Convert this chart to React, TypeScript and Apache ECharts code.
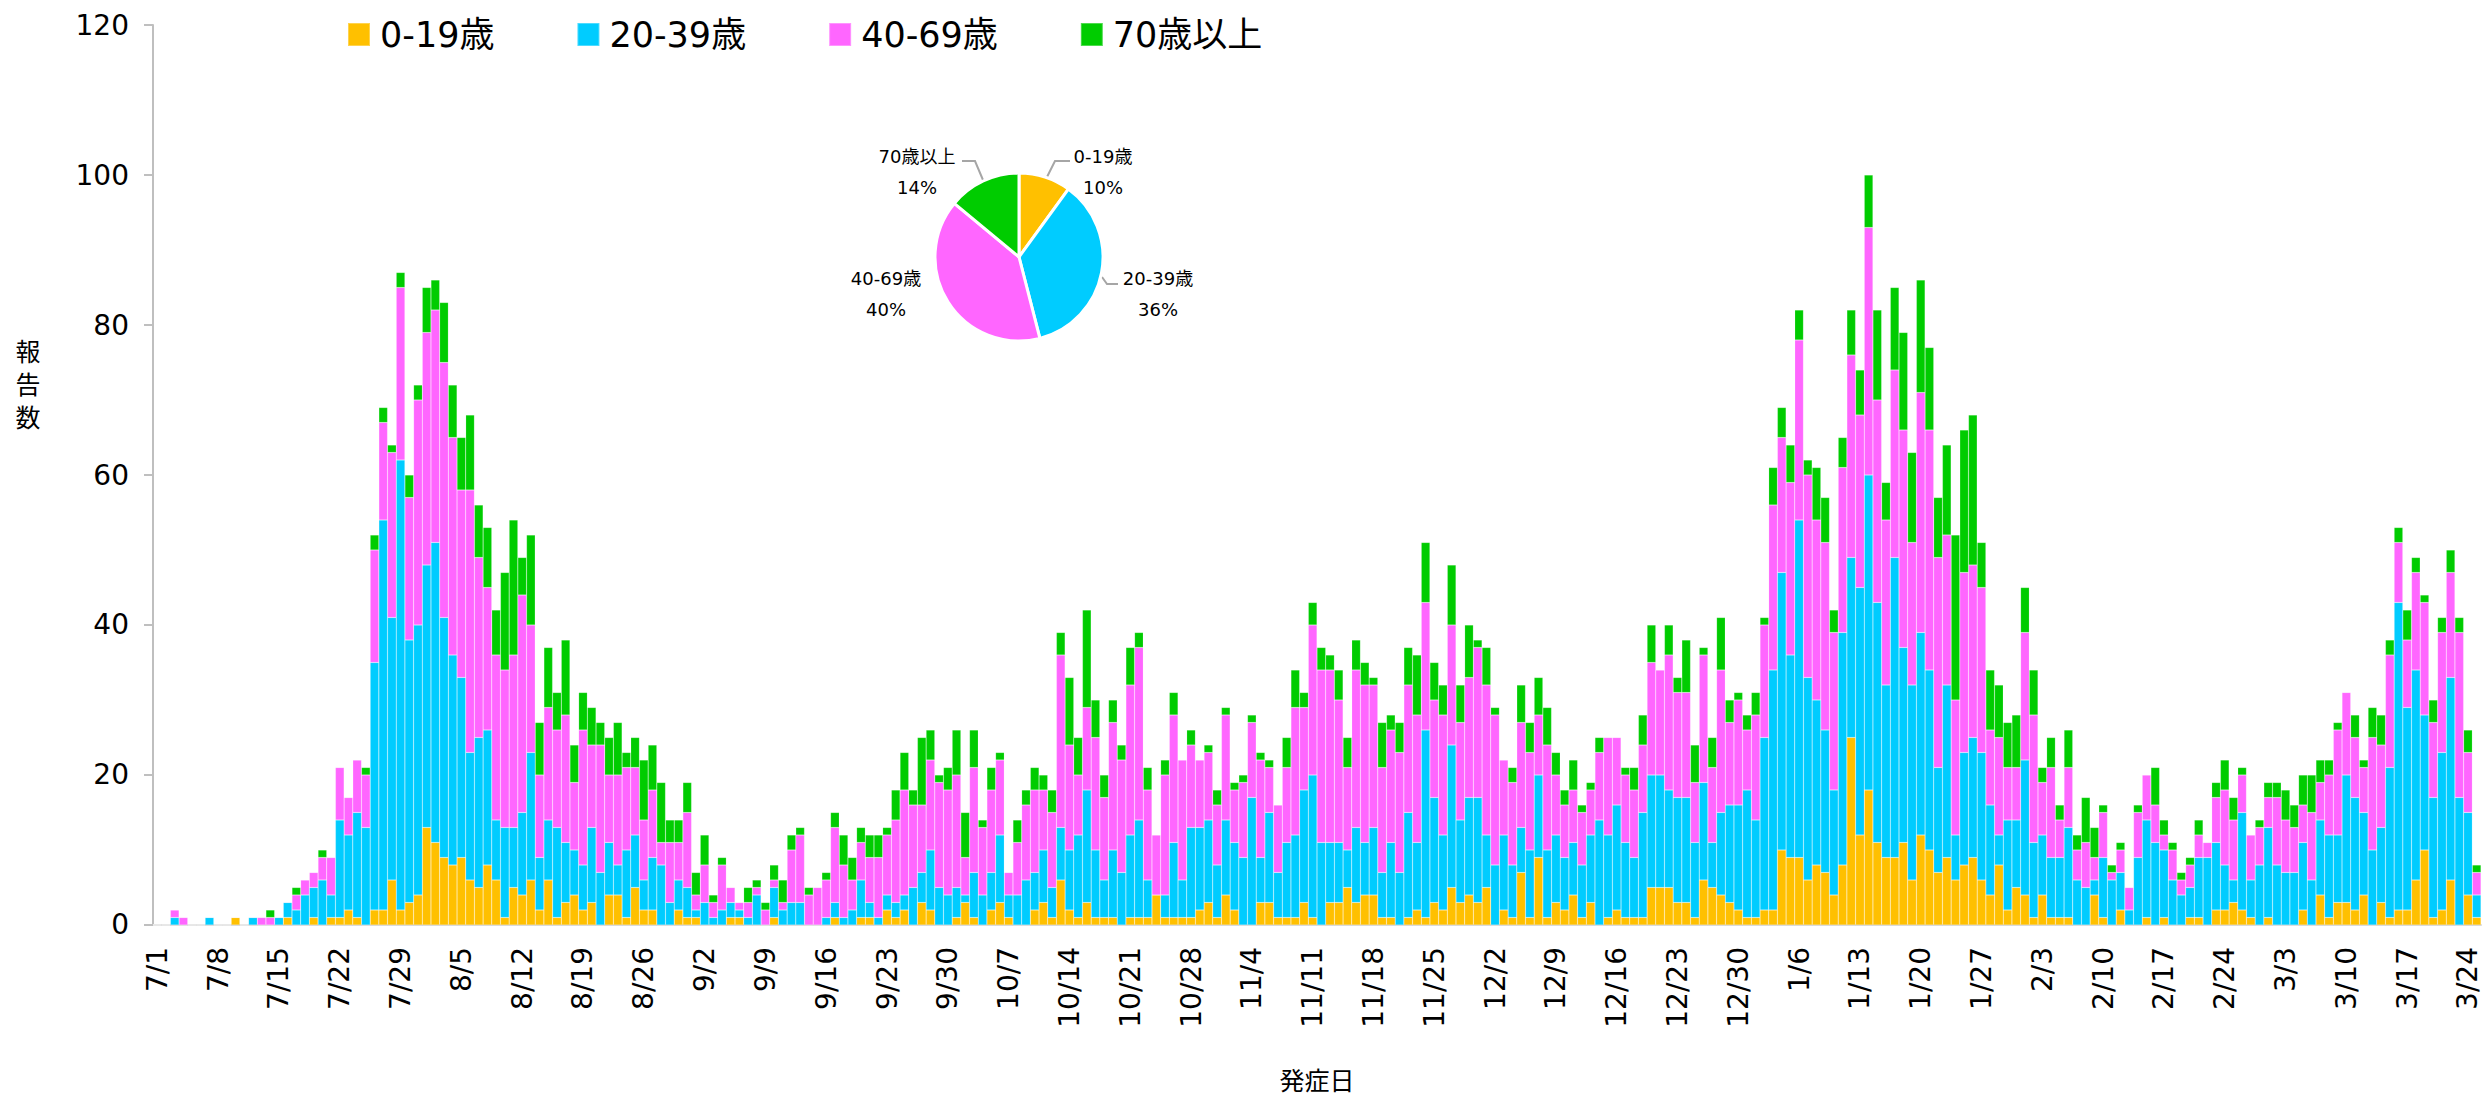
import React, { useEffect, useRef } from "react";
import * as echarts from "echarts";

const FONT = '"DejaVu Sans", "Noto Sans CJK JP", sans-serif';

// categories: 7/1 .. 3/25
const months = [7, 8, 9, 10, 11, 12, 1, 2, 3];
const monthDays = [31, 31, 30, 31, 30, 31, 31, 28, 25];
const categories: string[] = [];
months.forEach((m, i) => {
  for (let d = 1; d <= monthDays[i]; d++) categories.push(`${m}/${d}`);
});

const seriesNames = ["0-19歳", "20-39歳", "40-69歳", "70歳以上"];
const colors = ["#FFC000", "#00CCFF", "#FF66FF", "#00CC00"];

const age0to19 = [
  0, 0, 0, 0, 0, 0, 0, 0, 0, 1,
  0, 0, 0, 0, 0, 1, 0, 0, 1, 0,
  1, 1, 2, 1, 0, 2, 2, 6, 2, 3,
  4, 13, 11, 9, 8, 9, 6, 5, 8, 6,
  1, 5, 4, 6, 2, 6, 1, 3, 4, 2,
  3, 0, 4, 4, 1, 5, 2, 2, 0, 0,
  2, 1, 1, 0, 0, 0, 1, 1, 0, 0,
  0, 1, 0, 0, 0, 0, 0, 0, 1, 0,
  0, 1, 1, 0, 2, 1, 2, 0, 3, 2,
  0, 0, 1, 3, 1, 0, 2, 3, 1, 0,
  0, 2, 3, 1, 6, 2, 1, 3, 1, 1,
  1, 0, 1, 1, 1, 4, 1, 1, 1, 1,
  2, 3, 1, 4, 2, 0, 0, 3, 3, 1,
  1, 1, 3, 1, 0, 3, 3, 5, 3, 4,
  4, 1, 1, 0, 1, 2, 1, 3, 2, 5,
  3, 4, 3, 5, 0, 2, 1, 7, 1, 9,
  1, 3, 2, 4, 1, 3, 0, 1, 2, 1,
  1, 1, 5, 5, 5, 3, 3, 1, 6, 5,
  4, 3, 2, 1, 1, 2, 2, 10, 9, 9,
  6, 8, 7, 4, 8, 25, 12, 18, 11, 9,
  9, 11, 6, 12, 10, 7, 9, 6, 8, 9,
  6, 4, 8, 2, 5, 4, 1, 4, 1, 1,
  1, 0, 0, 4, 1, 0, 2, 0, 0, 1,
  0, 1, 0, 0, 1, 1, 0, 2, 2, 3,
  2, 1, 0, 1, 0, 0, 0, 2, 0, 4,
  1, 3, 3, 2, 4, 0, 3, 1, 2, 2,
  6, 10, 1, 2, 6, 0, 4, 1,
];

const age20to39 = [
  0, 0, 1, 0, 0, 0, 1, 0, 0, 0,
  0, 1, 0, 0, 1, 2, 2, 4, 4, 6,
  3, 13, 10, 14, 13, 33, 52, 35, 60, 35,
  36, 35, 40, 32, 28, 24, 17, 20, 18, 8,
  12, 8, 11, 17, 7, 8, 12, 8, 6, 6,
  10, 7, 7, 4, 9, 7, 4, 7, 8, 3,
  4, 4, 1, 3, 1, 2, 2, 1, 1, 4,
  0, 4, 2, 3, 3, 0, 0, 1, 2, 1,
  2, 5, 2, 1, 2, 2, 2, 5, 4, 8,
  5, 4, 4, 1, 6, 4, 5, 9, 3, 4,
  6, 5, 7, 4, 7, 8, 11, 15, 9, 5,
  9, 7, 11, 13, 5, 0, 3, 10, 5, 12,
  11, 11, 7, 10, 9, 9, 17, 6, 12, 6,
  10, 11, 15, 19, 11, 8, 8, 5, 10, 7,
  9, 6, 10, 7, 14, 9, 25, 14, 10, 19,
  11, 13, 14, 7, 8, 10, 7, 6, 9, 11,
  9, 9, 7, 7, 7, 9, 14, 11, 14, 10,
  8, 14, 15, 15, 13, 14, 14, 10, 13, 6,
  11, 13, 14, 17, 13, 23, 32, 37, 27, 45,
  27, 22, 19, 14, 31, 24, 33, 42, 32, 23,
  40, 26, 26, 27, 24, 14, 23, 6, 15, 16,
  17, 12, 4, 12, 9, 18, 10, 8, 8, 8,
  12, 6, 5, 2, 8, 6, 5, 2, 9, 13,
  11, 9, 6, 4, 4, 8, 9, 9, 6, 3,
  13, 5, 8, 12, 8, 7, 7, 9, 6, 10,
  11, 9, 17, 15, 11, 10, 10, 20, 41, 27,
  28, 18, 16, 21, 27, 17, 11, 3,
];

const age40to69 = [
  0, 0, 1, 1, 0, 0, 0, 0, 0, 0,
  0, 0, 1, 1, 0, 0, 2, 2, 2, 3,
  5, 7, 5, 7, 7, 15, 13, 22, 23, 19,
  30, 31, 31, 34, 29, 25, 35, 24, 19, 22,
  21, 23, 29, 17, 11, 15, 13, 17, 9, 18,
  11, 17, 9, 12, 11, 9, 8, 9, 3, 8,
  5, 10, 2, 5, 2, 6, 2, 1, 2, 1,
  2, 1, 1, 7, 9, 4, 5, 5, 10, 7,
  4, 5, 6, 8, 8, 11, 14, 11, 9, 12,
  14, 14, 15, 5, 14, 9, 11, 10, 3, 7,
  10, 11, 8, 10, 23, 14, 8, 11, 15, 11,
  17, 15, 20, 23, 12, 8, 16, 17, 16, 11,
  9, 9, 8, 14, 7, 10, 10, 13, 6, 9,
  10, 17, 11, 20, 23, 23, 19, 11, 21, 21,
  19, 14, 15, 16, 17, 17, 17, 13, 16, 16,
  13, 16, 20, 20, 20, 10, 11, 14, 13, 8,
  14, 8, 7, 7, 7, 6, 9, 13, 9, 9,
  9, 9, 15, 14, 18, 14, 14, 8, 17, 10,
  19, 11, 14, 8, 14, 15, 22, 18, 23, 24,
  27, 24, 25, 21, 22, 27, 23, 33, 27, 22,
  25, 29, 19, 32, 32, 28, 20, 18, 24, 23,
  22, 10, 13, 7, 7, 17, 17, 7, 12, 5,
  8, 4, 6, 3, 6, 1, 3, 3, 6, 6,
  5, 2, 4, 2, 3, 3, 2, 6, 10, 8,
  5, 6, 5, 4, 9, 7, 6, 5, 9, 5,
  8, 14, 11, 8, 6, 15, 11, 15, 8, 9,
  13, 15, 10, 16, 14, 22, 8, 3,
];

const age70plus = [
  0, 0, 0, 0, 0, 0, 0, 0, 0, 0,
  0, 0, 0, 1, 0, 0, 1, 0, 0, 1,
  0, 0, 0, 0, 1, 2, 2, 1, 2, 3,
  2, 6, 4, 8, 7, 7, 10, 7, 8, 6,
  13, 18, 5, 12, 7, 8, 5, 10, 5, 5,
  5, 3, 5, 7, 2, 4, 8, 6, 8, 3,
  3, 4, 3, 4, 1, 1, 0, 0, 2, 1,
  1, 2, 3, 2, 1, 1, 0, 1, 2, 4,
  3, 2, 3, 3, 1, 4, 5, 2, 9, 4,
  1, 3, 6, 6, 5, 1, 3, 1, 0, 3,
  2, 3, 2, 3, 3, 9, 5, 13, 5, 3,
  3, 2, 5, 2, 3, 0, 2, 3, 0, 2,
  0, 1, 2, 1, 1, 1, 1, 1, 1, 0,
  4, 5, 2, 3, 3, 2, 4, 4, 4, 3,
  1, 6, 2, 4, 5, 8, 8, 5, 4, 8,
  5, 7, 1, 5, 1, 0, 2, 5, 4, 5,
  5, 3, 2, 4, 1, 1, 2, 0, 0, 1,
  3, 4, 5, 0, 4, 2, 7, 5, 1, 4,
  7, 3, 1, 2, 3, 1, 5, 4, 5, 4,
  2, 7, 6, 3, 4, 6, 6, 7, 12, 5,
  11, 13, 12, 15, 11, 8, 12, 22, 19, 20,
  6, 8, 7, 6, 7, 6, 6, 2, 4, 2,
  5, 2, 6, 4, 1, 1, 1, 0, 1, 0,
  5, 2, 1, 1, 1, 2, 0, 2, 4, 3,
  1, 0, 1, 2, 2, 4, 3, 4, 5, 3,
  2, 1, 0, 3, 1, 4, 4, 2, 2, 4,
  2, 1, 3, 2, 3, 2, 3, 1,
];

const pieShares = [10, 36, 40, 14];

const barData = [age0to19, age20to39, age40to69, age70plus];

// pie label layout (pixel positions)
const pieLabelLayout = [
  { x: 1103, y: 172, line: [[1047, 177], [1055, 161], [1070, 161]] },
  { x: 1158, y: 294, line: [[1102, 277], [1107, 284], [1118, 284]] },
  { x: 886, y: 294, line: null },
  { x: 917, y: 172, line: [[983, 180], [975, 161], [962, 161]] },
];

export default function App() {
  const ref = useRef<HTMLDivElement>(null);
  useEffect(() => {
    document.body.style.margin = "0";
    if (!ref.current) return;
    const chart = echarts.init(ref.current, undefined, { renderer: "svg" });
    const option: any = {
      animation: false,
      textStyle: { fontFamily: FONT },
      color: colors,
      legend: {
        data: seriesNames,
        top: 12,
        left: 342,
        icon: "rect",
        itemWidth: 22,
        itemHeight: 23,
        itemGap: 82,
        selectedMode: false,
        textStyle: { fontSize: 35, color: "#000", fontFamily: FONT, padding: [0, 0, 0, 5] },
      },
      grid: { left: 153, right: 2, top: 25, bottom: 170 },
      xAxis: {
        type: "category",
        data: categories,
        boundaryGap: true,
        name: "発症日",
        nameLocation: "middle",
        nameGap: 144,
        nameTextStyle: { fontSize: 25, color: "#000", fontFamily: FONT },
        axisLine: { lineStyle: { color: "#d9d9d9", width: 2 } },
        axisTick: { interval: 6, length: 11, lineStyle: { color: "#d9d9d9", width: 2 } },
        axisLabel: { interval: 6, rotate: 90, margin: 22, fontSize: 28, color: "#000", fontFamily: FONT },
      },
      yAxis: {
        type: "value",
        min: 0,
        max: 120,
        interval: 20,
        axisLine: { show: true, lineStyle: { color: "#bfbfbf", width: 2 } },
        axisTick: { show: true, length: 9, lineStyle: { color: "#bfbfbf", width: 2 } },
        splitLine: { show: false },
        axisLabel: { fontSize: 28, color: "#000", margin: 24, fontFamily: FONT },
      },
      graphic: [
        {
          type: "text",
          x: 28,
          y: 385,
          style: {
            text: "報\n告\n数",
            fontSize: 25,
            lineHeight: 33,
            align: "center",
            verticalAlign: "middle",
            fill: "#000",
            fontFamily: FONT,
          },
        },
      ],
      series: [
        ...barData.map((d, i) => ({
          name: seriesNames[i],
          type: "bar",
          stack: "total",
          data: d,
          barCategoryGap: "0%",
          itemStyle: { color: colors[i], borderColor: "rgba(255,255,255,0.3)", borderWidth: 0.5 },
        })),
        {
          type: "pie",
          name: "share",
          center: [1019, 257],
          radius: 84,
          startAngle: 90,
          clockwise: true,
          z: 5,
          itemStyle: { borderColor: "#fff", borderWidth: 3 },
          label: { formatter: "{b}\n{d}%", fontSize: 18, lineHeight: 31, color: "#000", fontFamily: FONT },
          labelLine: { show: true, lineStyle: { color: "#a6a6a6", width: 2 } },
          labelLayout: (params: any) => {
            const p = pieLabelLayout[params.dataIndex];
            const r: any = { x: p.x, y: p.y, align: "center", verticalAlign: "middle" };
            if (p.line) r.labelLinePoints = p.line;
            return r;
          },
          data: pieShares.map((v, i) => ({
            name: seriesNames[i],
            value: v,
            itemStyle: { color: colors[i] },
            labelLine: { show: pieLabelLayout[i].line !== null },
          })),
        },
      ],
    };
    chart.setOption(option);
    return () => chart.dispose();
  }, []);
  return <div ref={ref} style={{ width: 2483, height: 1099 }} />;
}
